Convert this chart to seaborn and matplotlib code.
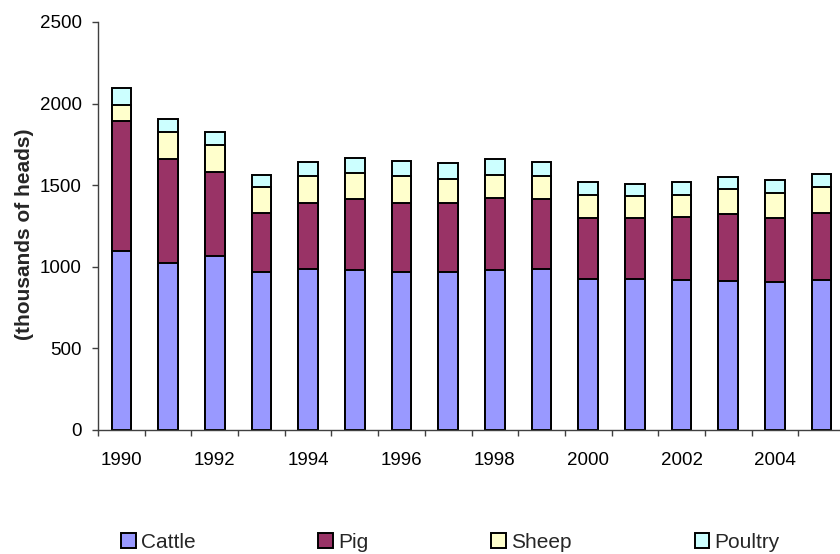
import matplotlib
matplotlib.use("Agg")
import matplotlib.pyplot as plt
import matplotlib.patches as mpatches
import numpy as np
import pandas as pd
import seaborn as sns

years = [str(y) for y in range(1990, 2006)]
cattle = [1095, 1021, 1064, 966, 988, 980, 970, 970, 980, 987, 927, 927, 919, 915, 905, 917]
pig = [798, 639, 515, 366, 403, 433, 421, 421, 442, 426, 374, 374, 386, 409, 396, 415]
sheep = [98, 168, 165, 157, 163, 162, 163, 149, 143, 146, 137, 135, 137, 153, 151, 157]
poultry = [106, 78, 80, 73, 88, 92, 96, 94, 98, 83, 80, 73, 76, 75, 78, 82]
series_names = ["Cattle", "Pig", "Sheep", "Poultry"]
colors = ["#9999FF", "#993366", "#FFFFCC", "#CCFFFF"]
tick_labels = [y if int(y) % 2 == 0 else "" for y in years]

sns.set_theme(style="white")
plt.rcParams["font.family"] = ["Liberation Sans", "DejaVu Sans"]

fig = plt.figure(figsize=(8.4, 5.54), dpi=100)
W, H = 840, 554
ax = fig.add_axes([98 / W, 1 - 430 / H, 747 / W, 408 / H])

values = [cattle, pig, sheep, poultry]
cum = np.cumsum(np.array(values), axis=0)
# Draw cumulative bars from the top layer down so each layer sits on the one below
for i in range(3, -1, -1):
    df = pd.DataFrame({"year": years, "value": cum[i]})
    sns.barplot(data=df, x="year", y="value", color=colors[i], saturation=1,
                width=0.42, edgecolor="black", linewidth=1.4, ax=ax, zorder=2)

ax.set_xlim(-0.5, 15.5)
ax.set_ylim(0, 2500)
ax.set_yticks([0, 500, 1000, 1500, 2000, 2500])
ax.set_yticklabels(["0", "500", "1000", "1500", "2000", "2500"], fontsize=13.5)
ax.set_xticks(range(len(years)))
ax.set_xticklabels(tick_labels, fontsize=13.5)
ax.set_xticks(np.arange(-0.5, 16, 1), minor=True)
ax.tick_params(axis="x", which="both", bottom=True)
ax.tick_params(axis="y", which="both", left=True)
ax.tick_params(axis="x", which="major", length=0, pad=15.5, colors="black")
ax.tick_params(axis="x", which="minor", length=4, width=1, color="#404040", direction="out")
ax.tick_params(axis="y", which="major", length=4.3, width=1, color="#404040",
               direction="out", pad=7.5, labelcolor="black")
ax.set_xlabel("")
ax.set_ylabel("(thousands of heads)", fontsize=15, fontweight="bold")
ax.yaxis.set_label_coords((34 - 98) / 747, (430 - 234) / 408)

for s in ["top", "right"]:
    ax.spines[s].set_visible(False)
for s in ["left", "bottom"]:
    ax.spines[s].set_color("#404040")
    ax.spines[s].set_linewidth(1)
ax.grid(False)

handles = [mpatches.Patch(facecolor=c, edgecolor="black", linewidth=1.4) for c in colors]
fig.legend(handles, series_names, loc="center left", bbox_to_anchor=(121 / W, 1 - 542 / H),
           ncol=4, frameon=False, fontsize=15, handlelength=0.7, handleheight=0.7,
           handletextpad=0.25, columnspacing=5.9, borderpad=0, borderaxespad=0)

fig.savefig("out.png", dpi=100)
